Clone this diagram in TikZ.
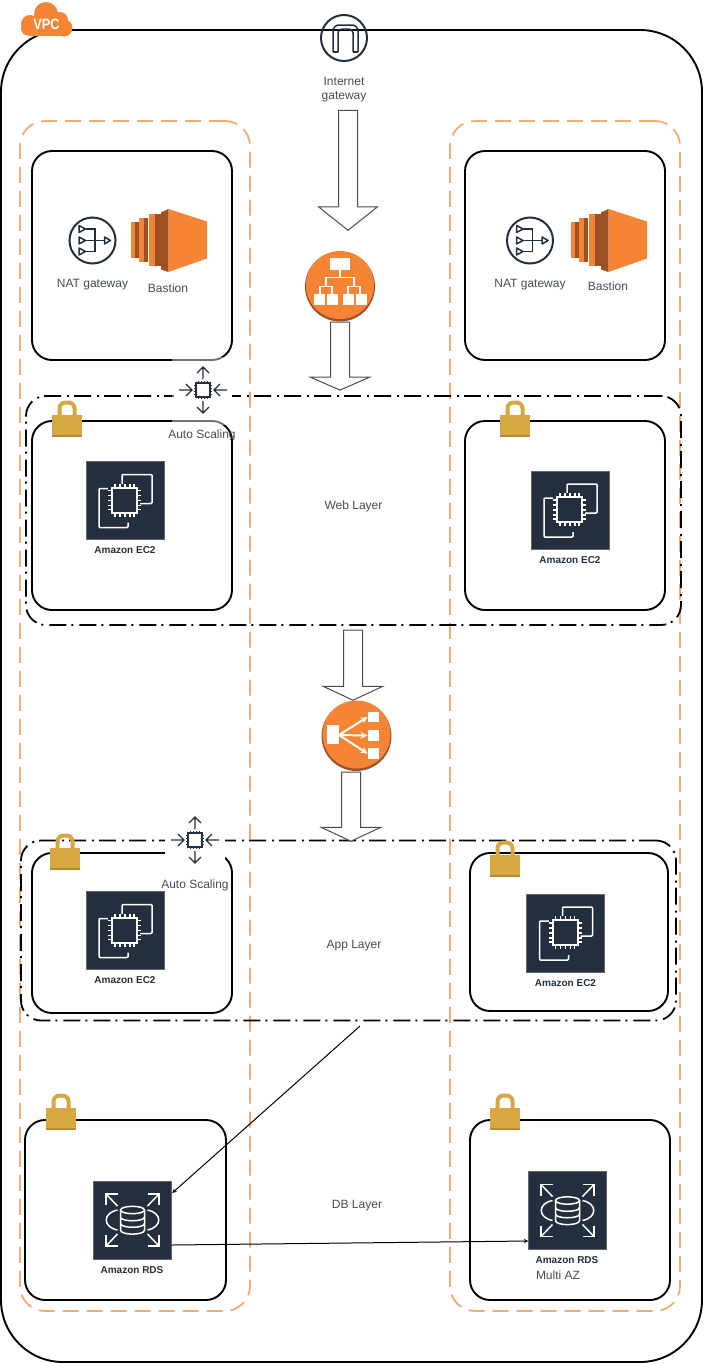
\documentclass[tikz,border=0pt]{standalone}
\usepackage{fontspec}
\setmainfont{Liberation Sans}
\usetikzlibrary{shapes,arrows,positioning}
\definecolor{awsink}{HTML}{232F3E}
\definecolor{awsorange}{HTML}{F58534}
\definecolor{awsbrown}{HTML}{9D5025}
\definecolor{dashorange}{HTML}{F2AC6E}
\definecolor{lockgold}{HTML}{D9A741}
\definecolor{lockdark}{HTML}{B8892F}
\definecolor{labelgrey}{HTML}{444B55}
\tikzset{
    vpcbox/.style={rectangle, draw=black, line width=1.9pt, rounded corners=62pt, inner sep=0pt},
    zonebox/.style={rectangle, draw=dashorange, line width=1.8pt, dash pattern=on 16pt off 8pt, rounded corners=25pt, inner sep=0pt},
    subnetbox/.style={rectangle, draw=black, line width=1.9pt, rounded corners=20pt, inner sep=0pt},
    layerbox/.style={rectangle, draw=black, line width=1.8pt, dash pattern=on 17pt off 5pt on 2pt off 6pt, rounded corners=20pt, inner sep=0pt},
    squarebox/.style={rectangle, draw=gray!70!awsink, fill=awsink, line width=.4pt, minimum size=78pt, inner sep=0pt},
    blankicon/.style={rectangle, inner sep=0pt},
    scalepatch/.style={rectangle, fill=white, inner sep=0pt},
    fadepatch/.style={rectangle, fill=white, fill opacity=.45, inner sep=0pt},
    blockarrow/.style={single arrow, draw=black!70, fill=white, line width=1pt, rotate=-90, inner sep=9pt, minimum width=58.5pt, single arrow head extend=20pt},
    caption/.style={font=\fontsize{12}{14}\selectfont, text=labelgrey, align=center, inner sep=0pt},
    awscaption/.style={font=\fontsize{10}{11}\selectfont\bfseries, text=awsink, inner sep=0pt},
    thinarrow/.style={line width=1pt, ->, >=stealth},
    pics/lockglyph/.style={code={
        \draw[lockgold, line width=4pt, rounded corners=6pt] (7.5,1) -- (7.5,-12.5) -- (22.5,-12.5) -- (22.5,1);
        \fill[lockgold] (0,0) rectangle (30,20);
        \fill[lockdark] (0,20) rectangle (30,21.5);
    }},
    pics/ectwoglyph/.style={code={
        \draw[white, line width=1.5pt, rounded corners=1pt] (-3,-15) -- (-3,-26) -- (27,-26) -- (27,3) -- (15,3);
        \draw[white, line width=1.5pt, rounded corners=1pt] (-13,-12) -- (-26,-12) -- (-26,27) -- (3,27) -- (3,22);
        \fill[awsink] (-17,-17) rectangle (13,13);
        \draw[white, line width=2pt] (-13,-13) rectangle (12,12);
        \foreach \p in {-10,-5,0,5,9}{
            \draw[white, line width=1.3pt] (\p,-17) -- (\p,-13) (\p,12) -- (\p,16);
            \draw[white, line width=1.3pt] (-17,\p) -- (-13,\p) (12,\p) -- (16,\p);
        }
    }},
    pics/rdsglyph/.style={code={
        % cylinder
        \draw[white, line width=1.5pt] (0,-10) ellipse (12 and 3.7);
        \draw[white, line width=1.5pt] (-12,-10) -- (-12,10) .. controls (-12,15.5) and (12,15.5) .. (12,10) -- (12,-10);
        \draw[white, line width=1.5pt] (-12,-3) .. controls (-12,2) and (12,2) .. (12,-3);
        \draw[white, line width=1.5pt] (-12,3.5) .. controls (-12,8.5) and (12,8.5) .. (12,3.5);
        % ring
        \draw[white, line width=1.5pt] (-15,-10) .. controls (-30,-7) and (-30,7) .. (-15,10);
        \draw[white, line width=1.5pt] (15,-10) .. controls (30,-7) and (30,7) .. (15,10);
        % corner arrows
        \foreach \sx/\sy in {-1/-1,1/-1,-1/1,1/1}{
            \draw[white, line width=1.5pt] (\sx*15,\sy*14) -- (\sx*26.5,\sy*26);
            \draw[white, line width=1.5pt] (\sx*26.5,\sy*15) -- (\sx*26.5,\sy*26) -- (\sx*15,\sy*26);
        }
    }},
    pics/natglyph/.style={code={
        \draw[awsink, line width=2pt] (0,0) circle (23);
        \foreach \y in {-11.5,0,11}{
            \draw[awsink, line width=1.5pt, line join=round] (-13.5,\y-3.5) -- (-7,\y) -- (-13.5,\y+3.5) -- cycle;
        }
        \draw[awsink, line width=1.7pt] (-7,-11.5) -- (2.5,-11.5) -- (2.5,11) -- (-7,11) (-7,0) -- (12,0);
        \draw[awsink, line width=1.5pt, line join=round] (12,-3.5) -- (18,0) -- (12,3.5) -- cycle;
    }},
    pics/bastionglyph/.style={code={
        \fill[awsorange] (-38,-18.5) rectangle (-34,17.5);
        \fill[awsbrown] (-34,-18.5) rectangle (-30,17.5);
        \fill[awsorange] (-29.5,-22.5) rectangle (-25,21.5);
        \fill[awsbrown] (-25,-22.5) rectangle (-21,21.5);
        \fill[awsorange] (-20,-26.5) rectangle (-14,25.5);
        \fill[awsbrown] (-14,-26.5) rectangle (-7.5,25.5);
        \fill[awsbrown] (-7.5,-28) -- (0,-31.5) -- (0,31.5) -- (-7.5,29) -- cycle;
        \fill[awsorange] (0,-31.5) -- (38.5,-19) -- (38.5,18) -- (0,31.5) -- cycle;
    }},
    pics/igwglyph/.style={code={
        \draw[awsink, line width=2pt] (0,0) circle (23);
        \draw[awsink, line width=1.5pt, rounded corners=6pt] (-11,14) -- (-11,-13) -- (14,-13) -- (14,14);
        \draw[awsink, line width=1.5pt, rounded corners=4pt] (-6,14) -- (-6,-9) -- (9,-9) -- (9,14);
        \draw[awsink, line width=1.5pt] (-11,14) -- (-6,14) (9,14) -- (14,14);
    }},
    pics/albglyph/.style={code={
        \fill[awsbrown] (0,0) circle (35);
        \fill[awsorange] (0,-1.5) circle (34);
        \fill[white] (-10,-29) rectangle (10,-17);
        \foreach \x in {-26,-13,3,16}{\fill[white] (\x,7) rectangle (\x+10.5,18);}
        \draw[white, line width=1.2pt] (0,-17) -- (0,-9) (-14,0) -- (-14,-9) -- (14,-9) -- (14,0)
            (-20,7) -- (-20,0) -- (-8,0) -- (-8,7) (8,7) -- (8,0) -- (20,0) -- (20,7);
    }},
    pics/elbglyph/.style={code={
        \fill[awsbrown] (0,0) circle (35);
        \fill[awsorange] (0,-1.5) circle (34);
        \fill[white] (-29.5,-11) rectangle (-17.5,8);
        \fill[white] (11.5,-24) rectangle (22,-14);
        \fill[white] (11.5,-6) rectangle (22,5);
        \fill[white] (11.5,12) rectangle (22,23);
        \foreach \y in {-19,-0.5,17.5}{
            \draw[white, line width=2pt, -stealth] (-17.5,-1) -- (11,\y);
        }
    }},
    pics/scaleglyph/.style={code={
        \draw[awsink, line width=1.2pt] (-7,-7) rectangle (7,7);
        \foreach \p in {-4.5,-1.5,1.5,4.5}{
            \draw[awsink, line width=.7pt] (\p,-9) -- (\p,-7) (\p,7) -- (\p,9);
            \draw[awsink, line width=.7pt] (-9,\p) -- (-7,\p) (7,\p) -- (9,\p);
        }
        \draw[awsink, line width=1.2pt] (0,-11) -- (0,-23) (-6,-17) -- (0,-23) -- (6,-17);
        \draw[awsink, line width=1.2pt] (0,11) -- (0,23) (-6,17) -- (0,23) -- (6,17);
        \draw[awsink, line width=1.2pt] (-24,0) -- (-11,0) (-17,-6) -- (-11,0) -- (-17,6);
        \draw[awsink, line width=1.2pt] (24,0) -- (11,0) (17,-6) -- (11,0) -- (17,6);
    }},
}
\begin{document}
\begin{tikzpicture}[x=1pt, y=-1pt]
\useasboundingbox (0,0) rectangle (704,1363);
% VPC frame and zones
\node[vpcbox, minimum width=701pt, minimum height=1332pt] (vpc) at (351.5,696) {};
\node[zonebox, minimum width=230pt, minimum height=1190pt] (zoneleft) at (135,716) {};
\node[zonebox, minimum width=230pt, minimum height=1190pt] (zoneright) at (565,716) {};
% Subnets
\node[subnetbox, minimum width=200pt, minimum height=209pt] (publicleft) at (132,255.5) {};
\node[subnetbox, minimum width=200pt, minimum height=209pt] (publicright) at (565,255.5) {};
\node[subnetbox, minimum width=200pt, minimum height=189pt] (webleft) at (132,515.5) {};
\node[subnetbox, minimum width=200pt, minimum height=189pt] (webright) at (565,515.5) {};
\node[subnetbox, minimum width=200pt, minimum height=160pt] (appleft) at (132,933) {};
\node[subnetbox, minimum width=198pt, minimum height=158pt] (appright) at (569,932) {};
\node[subnetbox, minimum width=201pt, minimum height=180pt] (dbleft) at (125.5,1210) {};
\node[subnetbox, minimum width=200pt, minimum height=180pt] (dbright) at (570,1210) {};
% Layers
\node[layerbox, minimum width=655pt, minimum height=229pt] (weblayer) at (353.5,510.5) {};
\node[layerbox, minimum width=655pt, minimum height=180pt] (applayer) at (348.5,930.5) {};
% Locks
\pic at (52,415) {lockglyph};
\pic at (500,415) {lockglyph};
\pic at (50,848) {lockglyph};
\pic at (490,855) {lockglyph};
\pic at (46,1108) {lockglyph};
\pic at (490,1108) {lockglyph};
% VPC tag
\fill[awsorange] (46,14) circle (12);
\fill[awsorange] (30,24) circle (9);
\fill[awsorange] (60,20) circle (8);
\fill[awsorange] (64,28) circle (8.5);
\fill[awsorange] (28,28.5) circle (7);
\fill[awsorange] (28,22) rectangle (65,36);
\node[inner sep=0pt, font=\fontsize{15}{15}\selectfont\bfseries, text=white, xscale=.85] (vpctag) at (46.5,24) {VPC};
% Gateway and balancers
\node[blankicon, minimum size=46pt] (igw) at (344,38) {};
\pic at (igw) {igwglyph};
\node[caption] (igwlabel) at (344,90) {Internet\\gateway};
\node[blankicon, minimum size=69pt] (alb) at (340,286.5) {};
\pic at (alb) {albglyph};
\node[blankicon, minimum size=69pt] (elb) at (356.5,736) {};
\pic at (elb) {elbglyph};
% Block arrows
\node[blockarrow, minimum height=120pt, single arrow tip angle=103] (igwarrow) at (348,166.5) {};
\node[blockarrow, minimum height=68pt, single arrow tip angle=133] (albarrow) at (340,354) {};
\node[blockarrow, minimum height=70pt, single arrow tip angle=130] (weblayerarrow) at (353,663) {};
\node[blockarrow, minimum height=69pt, single arrow tip angle=130] (elbarrow) at (351,804.5) {};
% NAT and bastion
\node[blankicon, minimum size=46pt] (natleft) at (92.5,240.5) {};
\pic at (natleft) {natglyph};
\node[blankicon, minimum size=46pt] (natright) at (530,240.5) {};
\pic at (natright) {natglyph};
\node[blankicon, minimum width=77pt, minimum height=63pt] (bastionleft) at (168.5,240.5) {};
\pic at (bastionleft) {bastionglyph};
\node[blankicon, minimum width=77pt, minimum height=63pt] (bastionright) at (608.5,240.5) {};
\pic at (bastionright) {bastionglyph};
\node[caption] (natleftlabel) at (92.5,285) {NAT gateway};
\node[caption] (natrightlabel) at (530,285) {NAT gateway};
\node[caption] (bastionleftlabel) at (168,288) {Bastion};
\node[caption] (bastionrightlabel) at (608,286) {Bastion};
% Auto scaling
\node[fadepatch, minimum width=60pt, minimum height=68pt] (scalefade) at (202,391) {};
\node[scalepatch, minimum width=58pt, minimum height=48pt] (scaleweb) at (203,390) {};
\pic at (scaleweb) {scaleglyph};
\node[caption] (scaleweblabel) at (202,435) {Auto Scaling};
\node[scalepatch, minimum width=60pt, minimum height=50pt] (scaleapp) at (195,840) {};
\pic at (scaleapp) {scaleglyph};
\node[caption] (scaleapplabel) at (195,885) {Auto Scaling};
% Compute and database icons
\node[squarebox] (ec2webleft) at (125,500.5) {};
\pic at (ec2webleft) {ectwoglyph};
\node[awscaption] (ec2webleftlabel) at (125,550.5) {Amazon EC2};
\node[squarebox] (ec2webright) at (570,510) {};
\pic at (ec2webright) {ectwoglyph};
\node[awscaption] (ec2webrightlabel) at (570,560.5) {Amazon EC2};
\node[squarebox] (ec2appleft) at (125,930.5) {};
\pic at (ec2appleft) {ectwoglyph};
\node[awscaption] (ec2appleftlabel) at (125,980.5) {Amazon EC2};
\node[squarebox] (ec2appright) at (565.5,933) {};
\pic at (ec2appright) {ectwoglyph};
\node[awscaption] (ec2apprightlabel) at (565.5,983.5) {Amazon EC2};
\node[squarebox] (rdsleft) at (132.5,1220) {};
\pic at (rdsleft) {rdsglyph};
\node[awscaption] (rdsleftlabel) at (132,1270.5) {Amazon RDS};
\node[squarebox] (rdsright) at (567.5,1210.5) {};
\pic at (rdsright) {rdsglyph};
\node[awscaption] (rdsrightlabel) at (567,1260.5) {Amazon RDS};
\node[caption] (multiazlabel) at (558,1275.5) {Multi AZ};
% Layer names
\node[caption] (weblabel) at (353.5,506) {Web Layer};
\node[caption] (applabel) at (354,946) {App Layer};
\node[caption] (dblabel) at (357,1206) {DB Layer};
% Arrows
\coordinate (appout) at (360,1026);
\draw[thinarrow] (appout) -- ([yshift=27pt, xshift=.5pt]rdsleft.east);
\draw[thinarrow] ([yshift=-25pt]rdsleft.east) -- ([yshift=-30.5pt]rdsright.west);
\end{tikzpicture}
\end{document}
